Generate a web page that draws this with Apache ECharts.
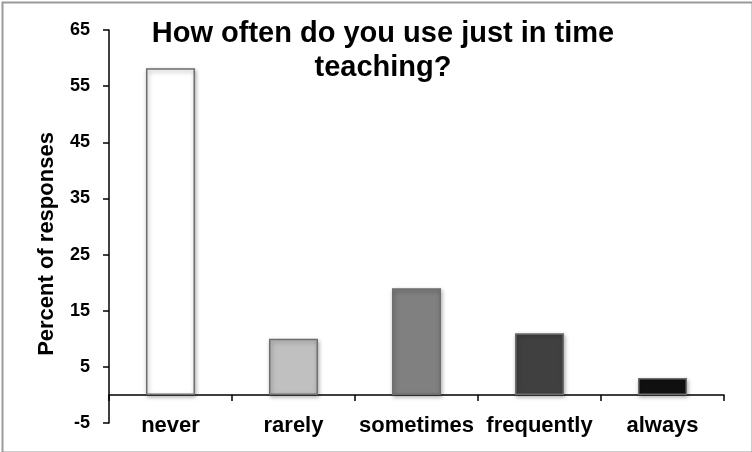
<!DOCTYPE html>
<html>
<head>
<meta charset="utf-8">
<script src="https://cdn.jsdelivr.net/npm/echarts@6/dist/echarts.min.js"></script>
<style>
html,body{margin:0;padding:0;background:#fff;}
#chart{width:752px;height:452px;}
</style>
</head>
<body>
<div id="chart"></div>
<script>
const categories = ['never', 'rarely', 'sometimes', 'frequently', 'always'];
const values = [58.2, 10, 19, 11, 3];
const barColors = ['#ffffff', '#c0c0c0', '#808080', '#404040', '#111111'];
const yMin = -5, yMax = 65, yStep = 10;
const titleText = 'How often do you use just in time\nteaching?';
const yName = 'Percent of responses';

const FONT = '"Liberation Sans", Arial, Helvetica, sans-serif';
const chart = echarts.init(document.getElementById('chart'));
chart.setOption({
  animation: false,
  backgroundColor: '#fff',
  title: {
    text: titleText,
    left: 378, top: 12, textAlign: 'center',
    textStyle: { fontFamily: FONT, fontWeight: 'bold', fontSize: 29, color: '#000', lineHeight: 34 }
  },
  grid: { left: 109, right: 28, top: 30, bottom: 29, containLabel: false, outerBoundsMode: 'none' },
  xAxis: {
    type: 'category',
    data: categories,
    boundaryGap: true,
    axisLine: { onZero: true, lineStyle: { color: '#000', width: 1.5 } },
    axisTick: { show: true, length: 6, inside: false, lineStyle: { color: '#000', width: 1.5 } },
    axisLabel: { interval: 0, margin: -8, color: '#000', fontFamily: FONT, fontWeight: 'bold', fontSize: 22, hideOverlap: false },
    splitLine: { show: false }
  },
  yAxis: {
    type: 'value',
    min: yMin, max: yMax, interval: yStep,
    axisLine: { show: true, lineStyle: { color: '#000', width: 1.5 } },
    axisTick: { show: true, length: 6, lineStyle: { color: '#000', width: 1.5 } },
    axisLabel: { margin: 19, color: '#000', fontFamily: FONT, fontWeight: 'bold', fontSize: 18 },
    splitLine: { show: false }
  },
  graphic: [
    { type: 'rect', left: 0, top: 0, shape: { x: 1, y: 1, width: 750, height: 450 },
      style: { fill: 'none', stroke: '#9a9a9a', lineWidth: 2 }, silent: true, z: 100 },
    { type: 'text', x: 47, y: 244, rotation: Math.PI / 2,
      style: { text: yName, fill: '#000', font: 'bold 22px ' + FONT, textAlign: 'center', textVerticalAlign: 'middle' } }
  ],
  series: [{
    type: 'bar',
    barWidth: 49,
    data: values.map((v, i) => ({
      value: v,
      itemStyle: { color: barColors[i] }
    })),
    itemStyle: {
      borderColor: '#6e6e6e', borderWidth: 1.5,
      shadowColor: 'rgba(0,0,0,0.35)', shadowBlur: 4, shadowOffsetY: 2, shadowOffsetX: 1
    }
  }]
});
</script>
</body>
</html>
